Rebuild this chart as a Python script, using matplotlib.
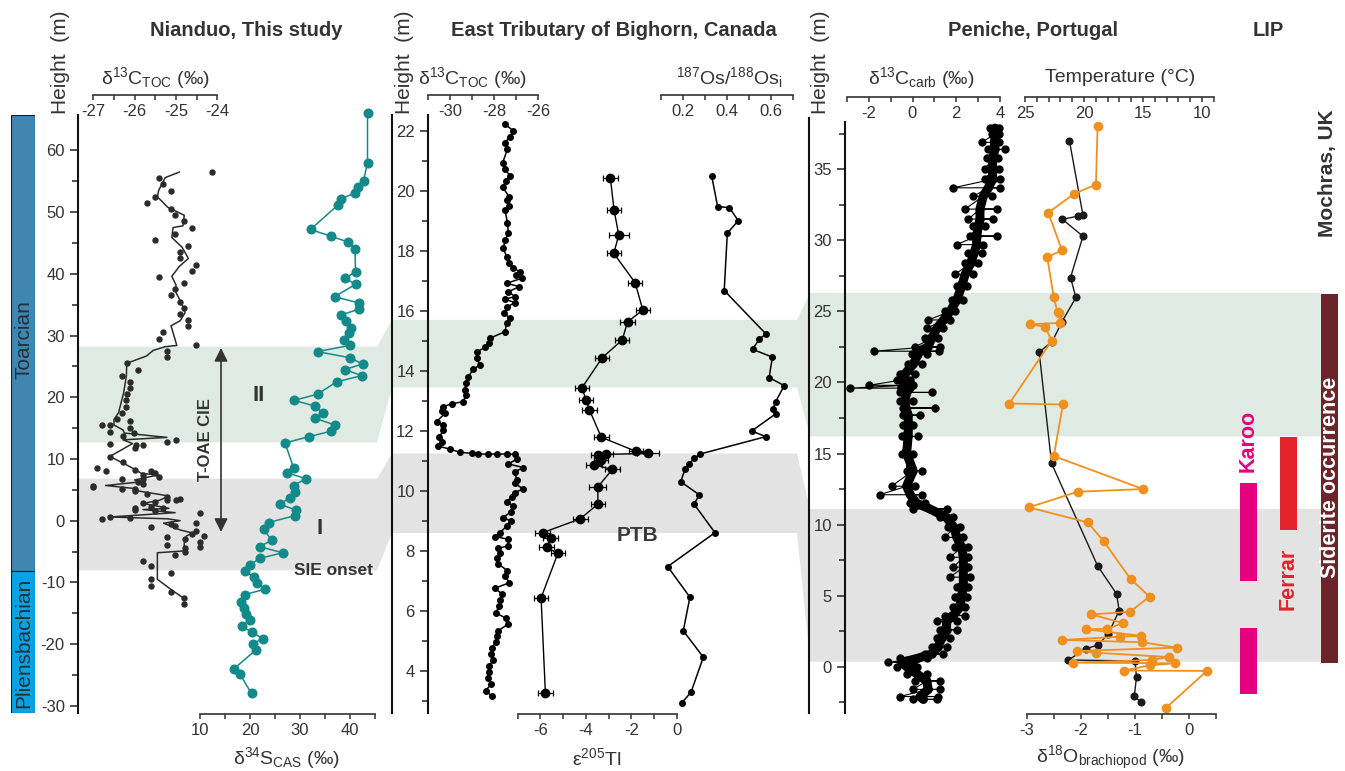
import matplotlib.pyplot as plt
from matplotlib.patches import Polygon
import numpy as np

plt.rcParams['font.family'] = ['Liberation Sans', 'DejaVu Sans']
plt.rcParams['mathtext.fontset'] = 'custom'
plt.rcParams['mathtext.rm'] = 'Liberation Sans'
plt.rcParams['mathtext.it'] = 'Liberation Sans:italic'
plt.rcParams['mathtext.bf'] = 'Liberation Sans:bold'
plt.rcParams['axes.unicode_minus'] = False

W, H = 1345, 771
TXT = '#333333'

# ---------------- Nianduo (this study) ----------------
nd_c_h = [56.5, 55.5, 54.5, 53.5, 52.5, 51.5, 50.5, 49.5, 48.5, 47.5, 46.5, 45.5, 44.5, 43.5,
          42.5, 41.5, 40.5, 39.5, 38.5, 37.5, 36.5, 35.5, 34.5, 33.5, 32.5, 31.5, 30.5, 29.5,
          28.5, 27.5, 26.5, 25.5, 24.5, 23.5, 22.5, 21.5, 20.5, 19.5, 18.5, 17.5, 16.5, 16.2,
          15.5, 15.5, 15.1, 14.3, 14.2, 13.8, 13.1, 12.7, 12.4, 12.2, 12.2, 11.7, 10.4, 9.5,
          8.5, 8.2, 8.0, 8.0, 7.7, 7.4, 7.0, 6.8, 6.8, 6.3, 6.0, 5.6, 5.4, 5.2, 5.1, 4.8,
          4.3, 3.8, 3.5, 3.4, 3.3, 3.0, 2.9, 2.2, 2.1, 2.1, 1.7, 1.5, 1.2, 0.6, 0.5, 0.3,
          -0.3, -0.5, -0.8, -1.1, -1.7, -2.2, -2.5, -2.7, -3.0, -3.5, -3.9, -4.2, -4.5, -5.0,
          -5.5, -6.5, -7.4, -8.4, -9.5, -10.6, -11.6, -12.6, -13.5]
nd_c_v = [-24.12, -25.41, -25.32, -25.12, -25.51, -25.71, -25.12, -25.02, -24.81, -24.61,
          -25.02, -25.51, -24.71, -24.91, -24.91, -24.51, -24.61, -25.41, -24.81, -25.02,
          -25.12, -24.91, -24.81, -24.91, -24.71, -24.71, -25.32, -25.41, -24.51, -25.22,
          -25.22, -26.19, -25.91, -26.30, -26.11, -26.11, -26.19, -26.20, -26.20, -26.30,
          -26.42, -26.11, -26.80, -26.60, -26.10, -26.60, -26.01, -26.29, -25.01, -25.22,
          -26.60, -25.97, -25.80, -26.00, -26.60, -26.29, -26.91, -26.00, -26.70, -25.61,
          -25.50, -25.79, -25.41, -26.30, -25.80, -25.91, -25.80, -27.00, -27.00, -26.00,
          -26.30, -26.00, -25.71, -25.22, -24.90, -25.22, -25.00, -25.50, -25.80, -25.60,
          -26.00, -25.32, -26.00, -25.50, -24.41, -26.60, -26.10, -26.80, -24.51, -25.12,
          -25.02, -25.61, -24.51, -24.62, -24.31, -25.22, -24.79, -24.41, -25.22, -24.41,
          -24.79, -24.79, -25.02, -25.80, -25.61, -25.12, -25.61, -25.61, -25.12, -24.81,
          -24.81]

nd_fit_h = [56.5, 55.6, 53.5, 52.5, 50.8, 49.5, 47.8, 47.5, 45.9, 44.3, 42.5, 41.2, 39.6,
            38.2, 37.0, 35.3, 33.7, 32.4, 31.6, 28.4, 28.2, 27.6, 26.7, 25.5, 23.4, 20.6,
            17.5, 16.4, 15.5, 14.7, 14.2, 13.5, 13.1, 12.5, 10.4, 9.3, 8.2, 7.7, 7.4, 6.6,
            6.3, 5.7, 5.2, 4.8, 4.0, 3.3, 2.8, 2.0, 1.8, 1.3, 0.6, 0.3, 0.0, -0.4, -1.5,
            -2.0, -2.5, -3.7, -4.9, -5.2, -9.5, -11.4, -12.6]
nd_fit_v = [-24.92, -25.26, -25.42, -25.45, -25.20, -24.80, -24.83, -25.07, -25.10, -24.85,
            -24.70, -24.92, -25.10, -25.00, -25.00, -24.87, -24.78, -24.90, -25.12, -24.98,
            -25.26, -25.55, -25.71, -26.19, -26.20, -26.27, -26.39, -26.50, -26.50, -26.28,
            -26.25, -25.22, -26.28, -26.05, -26.60, -26.27, -25.96, -25.85, -25.44, -26.00,
            -25.85, -26.70, -25.98, -25.90, -25.17, -25.40, -25.80, -25.17, -25.80, -25.02,
            -26.60, -25.20, -24.90, -25.30, -24.90, -24.60, -24.75, -24.80, -24.80, -25.45,
            -25.45, -25.07, -24.80]

nd_s_h = [66.0, 58.0, 55.1, 54.0, 53.1, 52.1, 51.1, 47.2, 46.1, 45.2, 44.1, 40.3, 39.3,
          38.3, 36.3, 35.3, 34.3, 33.3, 32.4, 31.3, 30.4, 29.3, 28.4, 27.4, 26.4, 25.4,
          24.5, 23.5, 22.5, 20.5, 19.5, 18.6, 17.5, 16.6, 15.5, 14.5, 13.6, 12.6, 8.6,
          7.8, 6.8, 5.7, 4.7, 3.7, 2.7, 1.7, 0.8, -0.3, -1.3, -3.2, -4.2, -5.2, -6.1,
          -7.2, -8.2, -9.1, -10.1, -11.1, -12.0, -13.1, -14.1, -15.1, -16.1, -17.1,
          -18.0, -19.1, -20.0, -21.0, -24.0, -24.9, -28.0]
nd_s_v = [43.5, 43.5, 42.7, 41.5, 40.9, 38.1, 37.5, 32.1, 36.2, 39.5, 41.0, 41.1, 39.0,
          41.1, 36.9, 41.7, 41.8, 38.1, 39.2, 40.1, 39.8, 38.7, 39.9, 33.5, 40.0, 42.5,
          39.0, 42.3, 37.3, 33.5, 28.8, 32.9, 34.5, 33.0, 37.0, 36.2, 31.7, 27.0, 28.7,
          27.3, 31.2, 28.7, 29.0, 28.0, 25.9, 29.2, 28.9, 23.7, 22.7, 24.3, 21.9, 26.5,
          22.0, 19.9, 19.0, 20.7, 21.3, 23.0, 18.9, 18.2, 18.7, 19.1, 19.9, 18.3, 20.3,
          22.5, 20.5, 21.1, 16.8, 18.0, 20.3]

stages = ['Toarcian', 'Pliensbachian']
stage_top = [65.75, -8.2]
stage_base = [-8.2, -31.17]
stage_label_h = [29.3, -19.8]
stage_colors = ['#3f86b0', '#05a3e6']

# ---------------- East Tributary of Bighorn ----------------
bh_c_h = [22.22, 22.00, 21.81, 21.61, 21.40, 20.94, 20.72, 20.51, 20.33, 20.12, 19.81, 19.70,
          19.50, 19.37, 18.92, 18.59, 18.37, 18.09, 17.81, 17.59, 17.42, 17.31, 17.20, 17.09,
          16.92, 16.81, 16.64, 16.48, 16.39, 16.28, 16.14, 15.92, 15.76, 15.61, 15.31, 15.09,
          14.92, 14.79, 14.64, 14.42, 14.20, 14.06, 13.81, 13.59, 13.37, 13.20, 12.98, 12.90,
          12.81, 12.68, 12.59, 12.31, 12.20, 12.03, 11.79, 11.64, 11.50, 11.39, 11.29, 11.25,
          11.23, 11.23, 11.23, 11.23, 11.22, 11.06, 10.90, 10.78, 10.64, 10.37, 10.26, 10.07,
          9.94, 9.81, 9.64, 9.50, 9.31, 9.11, 9.00, 8.83, 8.61, 8.48, 8.39, 8.17, 8.09, 7.94,
          7.78, 7.57, 7.34, 7.17, 6.94, 6.76, 6.57, 6.37, 6.17, 5.94, 5.76, 5.57, 5.34, 5.17,
          4.98, 4.76, 4.56, 4.37, 4.17, 3.98, 3.76, 3.57, 3.34, 3.17]
bh_c_v = [-27.51, -27.13, -27.29, -27.51, -27.40, -27.62, -27.51, -27.29, -27.47, -27.62,
          -27.33, -27.44, -27.32, -27.51, -27.40, -27.36, -27.51, -27.59, -27.44, -27.33,
          -27.13, -26.83, -27.01, -26.75, -27.44, -26.86, -27.36, -27.06, -27.51, -27.06,
          -27.40, -27.55, -27.29, -27.44, -27.51, -28.20, -28.23, -28.42, -28.77, -28.80,
          -28.65, -28.95, -29.18, -29.29, -29.33, -29.29, -29.41, -29.94, -30.35, -30.39,
          -30.24, -30.62, -30.35, -30.32, -30.50, -30.39, -30.55, -30.01, -29.56, -29.00,
          -28.73, -28.30, -27.89, -27.44, -27.06, -26.98, -27.36, -26.68, -27.06, -26.98,
          -27.06, -26.71, -27.06, -27.21, -27.44, -27.14, -27.25, -27.59, -27.25, -27.44,
          -27.74, -27.97, -27.36, -27.36, -27.82, -27.74, -27.89, -27.82, -27.40, -27.51,
          -27.32, -27.97, -27.66, -27.74, -27.77, -27.94, -27.47, -27.36, -27.82, -27.89,
          -27.92, -28.12, -28.15, -28.05, -28.23, -28.24, -28.30, -28.15, -28.39, -28.12]

bh_tl_h = [20.44, 19.37, 18.53, 17.92, 16.94, 16.03, 15.64, 15.03, 14.44, 13.44, 13.03, 12.70,
           11.79, 11.32, 11.25, 11.22, 11.20, 11.03, 10.87, 10.72, 10.14, 9.56, 9.07, 8.61,
           8.42, 8.12, 7.92, 6.44, 3.26]
bh_tl_v = [-2.92, -2.76, -2.55, -2.77, -1.83, -1.49, -2.16, -2.40, -3.28, -4.17, -3.99, -3.84,
           -3.32, -1.79, -1.27, -3.13, -3.47, -3.32, -3.65, -2.83, -3.47, -3.47, -4.25, -5.90,
           -5.55, -5.73, -5.23, -5.97, -5.78]
bh_tl_err = [0.32, 0.30, 0.44, 0.31, 0.31, 0.31, 0.32, 0.31, 0.32, 0.32, 0.31, 0.33, 0.32,
             0.31, 0.48, 0.33, 0.30, 0.30, 0.35, 0.33, 0.37, 0.30, 0.33, 0.33, 0.32, 0.31,
             0.31, 0.31, 0.32]

bh_os_h = [20.50, 19.48, 19.44, 19.01, 18.59, 16.68, 15.23, 15.06, 14.72, 14.46, 13.78, 13.51,
           12.98, 12.72, 12.57, 12.00, 11.81, 11.23, 11.09, 10.90, 10.72, 10.31, 9.87, 9.56,
           8.61, 7.48, 6.46, 5.34, 4.46, 3.29, 2.94]
bh_os_v = [0.329, 0.356, 0.409, 0.450, 0.400, 0.386, 0.576, 0.545, 0.515, 0.605, 0.590, 0.659,
           0.620, 0.606, 0.620, 0.511, 0.575, 0.276, 0.250, 0.227, 0.208, 0.188, 0.273, 0.249,
           0.344, 0.129, 0.230, 0.200, 0.291, 0.235, 0.193]

# ---------------- Peniche ----------------
pe_c_h = [37.9, 37.5, 36.9, 36.4, 35.8, 35.0, 34.3, 33.7, 33.1, 32.2, 31.5, 31.0, 30.3, 29.7,
          29.1, 28.4, 27.6, 26.8, 25.8, 25.0, 24.4, 23.8, 23.1, 22.5, 22.2, 22.0, 21.3, 20.6,
          20.2, 19.8, 19.6, 19.3, 18.7, 18.2, 17.7, 17.0, 16.2, 15.0, 13.8, 12.7, 12.1, 11.5,
          11.1, 10.5, 9.8, 9.1, 8.4, 7.7, 7.0, 6.3, 5.6, 4.9, 4.2, 3.6, 3.2, 2.6, 2.0, 1.4,
          0.9, 0.6, 0.3, 0.0, -0.5, -1.0, -1.6, -2.1, -2.3]
pe_c_lo = [3.55, 3.63, 3.17, 3.47, 3.40, 3.32, 3.32, 1.87, 2.79, 2.40, 2.56, 2.79, 2.63, 2.02,
           2.56, 2.40, 1.94, 2.02, 1.79, 1.49, 0.72, 0.65, 0.57, 0.11, -1.77, -0.04, -0.19,
           -0.58, -0.73, -2.00, -2.87, -0.58, -0.58, -0.42, -0.42, -0.42, -0.50, -0.50, -0.27,
           -0.96, -1.50, -0.12, 0.03, 1.26, 1.64, 1.49, 1.94, 1.72, 1.87, 1.72, 2.02, 1.94,
           1.87, 1.49, 1.10, 1.26, 1.10, 0.88, 0.57, -0.58, -1.11, -0.73, -0.27, 0.11, 0.03,
           -0.58, 0.03]
pe_c_mid = [3.78, 3.81, 3.75, 3.78, 3.67, 3.67, 3.67, 3.47, 3.24, 3.09, 3.09, 3.02, 2.94, 2.94,
            2.82, 2.67, 2.41, 2.26, 2.03, 1.72, 1.42, 1.11, 0.88, 0.70, 0.30, 0.26, 0.04,
            -0.35, -0.40, -0.30, -0.50, -0.27, -0.35, -0.30, -0.20, -0.19, -0.20, -0.27, 0.03,
            -0.27, -0.10, 0.19, 0.80, 1.56, 1.90, 2.03, 2.25, 2.33, 2.33, 2.33, 2.33, 2.25,
            2.17, 1.87, 1.56, 1.56, 1.33, 1.18, 0.88, 0.26, -0.50, -0.27, 0.19, 0.65, 0.72,
            0.34, 0.50]
pe_c_hi = [3.98, 3.95, 3.98, 4.24, 3.93, 3.98, 4.01, 4.01, 3.63, 3.86, 3.70, 3.32, 3.86, 3.24,
           3.17, 3.02, 2.79, 2.48, 2.33, 1.94, 1.72, 1.41, 1.18, 1.26, 1.20, 0.65, 0.42, 0.11,
           -0.12, 0.00, -0.12, 0.88, 0.03, 1.03, 0.34, 0.03, 0.26, 0.03, 0.42, 0.11, 0.42,
           0.57, 1.56, 1.87, 2.17, 2.33, 2.56, 2.56, 2.56, 2.63, 2.56, 2.48, 2.40, 2.40, 2.02,
           2.02, 1.72, 1.56, 1.41, 0.65, 0.00, 0.19, 0.65, 1.26, 1.26, 1.18, 1.10]

pe_o_h = [38.02, 33.92, 33.29, 31.95, 29.30, 28.83, 25.98, 24.96, 24.90, 24.19, 24.10, 23.91,
          22.93, 18.52, 18.45, 14.82, 12.50, 12.31, 11.21, 10.15, 8.84, 6.17, 4.93, 3.86,
          3.68, 3.07, 2.67, 2.63, 2.17, 2.11, 1.88, 1.72, 1.34, 1.10, 0.98, 0.68, 0.47, 0.28,
          0.24, 0.09, -0.27, -0.30, -2.88]
pe_o_v = [-1.69, -1.72, -2.12, -2.60, -2.35, -2.62, -2.50, -2.43, -2.40, -2.38, -2.93, -2.66,
          -2.54, -3.32, -2.33, -2.50, -0.85, -2.06, -2.96, -1.87, -1.58, -1.08, -0.73, -1.09,
          -1.81, -1.22, -1.51, -1.90, -0.89, -1.28, -2.34, -0.86, -0.23, -2.07, -1.71, -0.37,
          -0.69, -2.14, -0.26, -0.73, -1.21, 0.33, -0.42]

pe_b_h = [37.0, 31.77, 31.7, 31.48, 30.29, 27.38, 25.98, 24.26, 22.86, 22.15, 14.3, 7.1, 5.13,
          3.95, 2.32, 1.53, 1.25, 0.47, 0.40, -0.72, -2.05, -2.52]
pe_b_v = [-2.21, -1.96, -2.06, -2.34, -1.96, -2.19, -2.09, -2.35, -2.53, -2.77, -2.54, -1.69,
          -1.34, -1.29, -1.49, -1.68, -1.91, -2.23, -1.00, -0.97, -1.01, -0.89]

# LIP / Mochras columns (Peniche height scale)
lip_names = ['Karoo', 'Karoo', 'Ferrar']
lip_top = [12.93, 2.72, 16.16]
lip_base = [6.03, -1.92, 9.65]
siderite_top, siderite_base = 26.23, 0.26

# correlation bands (Nianduo, Bighorn, Peniche)
green_band = [(12.7, 28.2), (13.45, 15.7), (16.2, 26.3)]
grey_band = [(-8.05, 6.8), (8.6, 11.25), (0.35, 11.1)]

# ---------------- layout ----------------
ND = dict(x0=78, x1=390, y0=115, y1=713, ylim=(-31.17, 65.75))
BH = dict(x0=428, x1=797, y0=115, y1=713, ylim=(2.6, 22.53))
PE = dict(x0=845, x1=1321, y0=122, y1=713, ylim=(-3.26, 38.33))

fig = plt.figure(figsize=(W / 100, H / 100), dpi=100)
bg = fig.add_axes([0, 0, 1, 1], zorder=0)
bg.set_xlim(0, W)
bg.set_ylim(H, 0)
bg.axis('off')


def ypx(p, h):
    lo, hi = p['ylim']
    return p['y0'] + (hi - h) / (hi - lo) * (p['y1'] - p['y0'])


def add_ax(x0, x1, y0, y1):
    ax = fig.add_axes([x0 / W, 1 - y1 / H, (x1 - x0) / W, (y1 - y0) / H], zorder=2)
    ax.patch.set_visible(False)
    for s in ax.spines.values():
        s.set_visible(False)
    ax.tick_params(left=False, bottom=False, labelleft=False, labelbottom=False)
    return ax


def host(p, major, minor):
    ax = add_ax(p['x0'], p['x1'], p['y0'], p['y1'])
    ax.set_xlim(p['x0'], p['x1'])
    ax.set_ylim(p['ylim'])
    ax.spines['left'].set_visible(True)
    ax.spines['left'].set_linewidth(1.5)
    ax.spines['left'].set_color('#111111')
    ax.set_yticks(major)
    ax.set_yticks(minor, minor=True)
    ax.tick_params(axis='y', which='both', left=True, labelleft=True, color='#222222',
                   width=1.1, labelsize=12, labelcolor=TXT, pad=4)
    ax.tick_params(axis='y', which='major', length=5.5)
    ax.tick_params(axis='y', which='minor', length=4)
    return ax


def track(p, va, pa, vb, pb):
    ax = add_ax(p['x0'], p['x1'], p['y0'], p['y1'])
    k = (pb - pa) / (vb - va)
    ax.set_xlim(va + (p['x0'] - pa) / k, va + (p['x1'] - pa) / k)
    ax.set_ylim(p['ylim'])
    return ax


def xaxis(ax, p, line_y, lo, hi, major, minor, labels):
    sp = ax.spines['bottom']
    sp.set_visible(True)
    sp.set_position(('axes', (p['y1'] - line_y) / (p['y1'] - p['y0'])))
    sp.set_bounds(lo, hi)
    sp.set_linewidth(1.2)
    sp.set_color(TXT)
    ax.set_xticks(major)
    ax.set_xticklabels(labels)
    ax.set_xticks(minor, minor=True)
    ax.tick_params(axis='x', which='both', bottom=True, labelbottom=True, direction='out',
                   length=3.8, width=1.1, color=TXT, labelsize=12, labelcolor=TXT, pad=3)


# ---- bands ----
for band, col in [(green_band, '#dfebe2'), (grey_band, '#e3e3e3')]:
    (l1, h1), (l2, h2), (l3, h3) = band
    t1, b1 = ypx(ND, h1), ypx(ND, l1)
    t2, b2 = ypx(BH, h2), ypx(BH, l2)
    t3, b3 = ypx(PE, h3), ypx(PE, l3)
    pts = [(78, t1), (377, t1), (392, t2), (797, t2), (810, t3), (1321, t3),
           (1321, b3), (810, b3), (797, b2), (392, b2), (377, b1), (78, b1)]
    bg.add_patch(Polygon(pts, closed=True, facecolor=col, edgecolor='none', zorder=0))

for xs, ytop in [(391.5, 115), (809, 118)]:
    bg.plot([xs, xs], [ytop, 713], color='#111111', lw=1.5, zorder=3)

# ---- titles ----
for x, t in [(246, 'Nianduo, This study'), (614, 'East Tributary of Bighorn, Canada'),
             (1033, 'Peniche, Portugal'), (1268, 'LIP')]:
    bg.text(x, 30, t, ha='center', va='center', fontsize=14.5, fontweight='bold', color=TXT)
for x in [60, 404, 821]:
    bg.text(x, 62, 'Height  (m)', ha='center', va='center', rotation=90, fontsize=15,
            color=TXT)
bg.text(1327, 173, 'Mochras, UK', ha='center', va='center', rotation=90, fontsize=15,
        fontweight='bold', color=TXT)

top_labels = [(155, r'δ$^{13}$C$_{\mathrm{TOC}}$ (‰)'), (472, r'δ$^{13}$C$_{\mathrm{TOC}}$ (‰)'),
              (729, r'$^{187}$Os/$^{188}$Os$_{\mathrm{i}}$'),
              (921, r'δ$^{13}$C$_{\mathrm{carb}}$ (‰)'), (1120, 'Temperature (°C)')]
for x, t in top_labels:
    bg.text(x, 78, t, ha='center', va='center', fontsize=14, color=TXT)
bot_labels = [(287, r'δ$^{34}$S$_{\mathrm{CAS}}$ (‰)'), (597, r'ε$^{205}$Tl'),
              (1110, r'δ$^{18}$O$_{\mathrm{brachiopod}}$ (‰)')]
for x, t in bot_labels:
    bg.text(x, 758, t, ha='center', va='center', fontsize=14, color=TXT)

# ---- stage column ----
sax = add_ax(11, 35, 115, 713)
sax.set_xlim(0, 1)
sax.set_ylim(ND['ylim'])
for name, top, base, lab_h, col in zip(stages, stage_top, stage_base, stage_label_h,
                                       stage_colors):
    sax.bar(0.5, top - base, bottom=base, width=1, color=col, edgecolor='#1e1e1e', lw=0.8)
    sax.text(0.55, lab_h, name, rotation=90, ha='center', va='center', fontsize=15,
             color='#24313a')

# ---- Nianduo ----
h1 = host(ND, np.arange(-30, 61, 10), np.arange(-25, 56, 10))
a = track(ND, -27, 93.3, -24, 217.3)
a.plot(nd_fit_v, nd_fit_h, color='#2b2b2b', lw=1.1)
a.plot(nd_c_v, nd_c_h, 'o', color='#2b2b2b', ms=3.6)
xaxis(a, ND, 94.5, -27, -24, [-27, -26, -25, -24], [-26.5, -25.5, -24.5],
      ['-27', '-26', '-25', '-24'])
a = track(ND, 10, 200, 45, 375)
a.plot(nd_s_v, nd_s_h, '-o', color='#138a8a', ms=6.2, lw=1.1, clip_on=False)
xaxis(a, ND, 714, 10, 45, [10, 20, 30, 40], [15, 25, 35, 45], ['10', '20', '30', '40'])

h1.annotate('', xy=(221, 28.0), xytext=(221, -1.83),
            arrowprops=dict(arrowstyle='<|-|>', color=TXT, lw=1.2, mutation_scale=20,
                            shrinkA=0, shrinkB=0))
h1.text(206, 13.2, 'T-OAE CIE', rotation=90, ha='center', va='center', fontsize=12,
        fontweight='bold', color=TXT)
h1.text(259, 20.3, 'II', ha='center', va='center', fontsize=16, fontweight='bold', color=TXT)
h1.text(320, -1.2, 'I', ha='center', va='center', fontsize=16, fontweight='bold', color=TXT)
h1.text(333, -8.15, 'SIE onset', ha='center', va='center', fontsize=12.5, fontweight='bold',
        color=TXT)

# ---- Bighorn ----
h2 = host(BH, np.arange(4, 23, 2), np.arange(3, 22, 2))
a = track(BH, -30, 450.3, -26, 538.3)
a.plot(bh_c_v, bh_c_h, '-o', color='k', ms=4, lw=1.1)
xaxis(a, BH, 94.5, -31, -26, [-30, -28, -26], [-31, -29, -27], ['-30', '-28', '-26'])
a = track(BH, -6, 540.4, 0, 676.7)
a.plot(bh_tl_v, bh_tl_h, '-', color='k', lw=1.0)
a.errorbar(bh_tl_v, bh_tl_h, xerr=bh_tl_err, fmt='o', color='k', ms=6, elinewidth=0.9,
           capsize=2.5, capthick=0.9)
xaxis(a, BH, 714, -7, 0, [-6, -4, -2, 0], [-7, -5, -3, -1], ['-6', '-4', '-2', '0'])
a = track(BH, 0.2, 683.3, 0.6, 771.3)
a.plot(bh_os_v, bh_os_h, '-o', color='k', ms=4, lw=1.1)
xaxis(a, BH, 94.5, 0.1, 0.7, [0.2, 0.4, 0.6], [0.1, 0.3, 0.5, 0.7], ['0.2', '0.4', '0.6'])
h2.text(638, 8.53, 'PTB', ha='center', va='center', fontsize=15, fontweight='bold',
        color='#3a3a3a')

# ---- Peniche ----
h3 = host(PE, np.arange(0, 36, 5), np.arange(-2.5, 38, 5))
a = track(PE, 0, 912.5, 4, 999.8)
zig_v = np.column_stack([pe_c_lo, pe_c_hi, pe_c_mid]).ravel()
zig_h = np.repeat(pe_c_h, 3)
a.plot(pe_c_mid, pe_c_h, color='k', lw=6.5, solid_capstyle='round')
a.plot(zig_v, zig_h, '-o', color='k', ms=5, lw=0.8)
xaxis(a, PE, 96.5, -3, 4, [-2, 0, 2, 4], [-3, -1, 1, 3], ['-2', '0', '2', '4'])
a = track(PE, 25, 1025, 10, 1202)
xaxis(a, PE, 96.5, 25, 9, [25, 20, 15, 10], [x for x in range(9, 25) if x % 5],
      ['25', '20', '15', '10'])
a = track(PE, -3, 1026.7, 0, 1189)
a.plot(pe_b_v, pe_b_h, '-o', color='#1a1a1a', ms=4.8, lw=1.0)
a.plot(pe_o_v, pe_o_h, '-o', color='#f0901e', ms=6, lw=1.3)
xaxis(a, PE, 714, -3, 0.5, [-3, -2, -1, 0], [-2.5, -1.5, -0.5, 0.5], ['-3', '-2', '-1', '0'])

# ---- LIP / siderite ----
lax = add_ax(1225, 1345, 122, 713)
lax.set_xlim(1225, 1345)
lax.set_ylim(PE['ylim'])
lip_x = {'Karoo': 1248.3, 'Ferrar': 1288.3}
lip_col = {'Karoo': '#e4007f', 'Ferrar': '#e5232b'}
for name, top, base in zip(lip_names, lip_top, lip_base):
    lax.bar(lip_x[name], top - base, bottom=base, width=17, color=lip_col[name])
lax.bar(1329.7, siderite_top - siderite_base, bottom=siderite_base, width=17.5,
        color='#6b2429')
lax.text(1248.3, 15.9, 'Karoo', rotation=90, ha='center', va='center', fontsize=15.5,
         fontweight='bold', color=lip_col['Karoo'])
lax.text(1288.3, 6.2, 'Ferrar', rotation=90, ha='center', va='center', fontsize=15.5,
         fontweight='bold', color=lip_col['Ferrar'])
lax.text(1330, 13.3, 'Siderite occurrence', rotation=90, ha='center', va='center',
         fontsize=15.5, fontweight='bold', color='white')

fig.savefig('out.png', dpi=100)
